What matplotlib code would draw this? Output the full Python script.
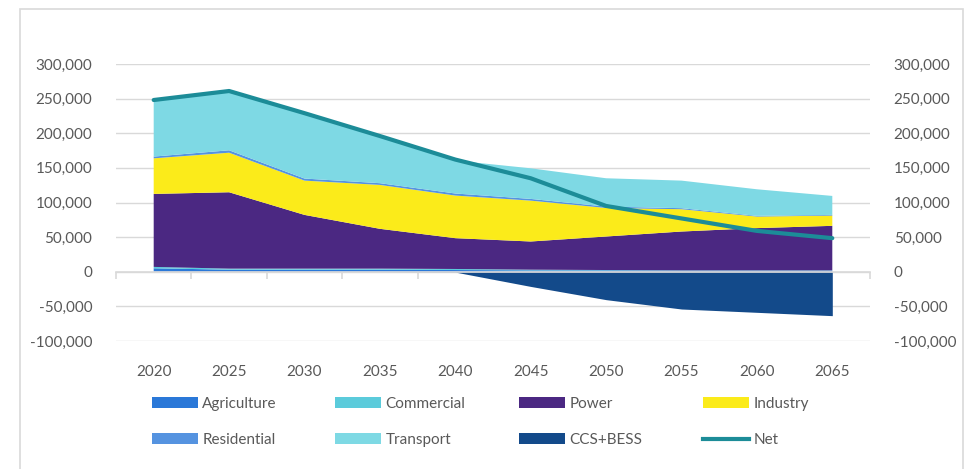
import numpy as np
import matplotlib
matplotlib.use('Agg')
import matplotlib.pyplot as plt
from matplotlib.patches import Rectangle, Patch
from matplotlib.lines import Line2D
from matplotlib.ticker import FuncFormatter

plt.rcParams['font.family'] = ['Lato', 'DejaVu Sans']

years = [2020, 2025, 2030, 2035, 2040, 2045, 2050, 2055, 2060, 2065]
agriculture = [5000, 3000, 3000, 3000, 2500, 2000, 2000, 1500, 1500, 1500]
commercial = [2000, 1500, 1500, 1500, 1500, 1000, 500, 500, 500, 500]
power = [105400, 110300, 77600, 57500, 44500, 40700, 48400, 56100, 61000, 64300]
industry = [51400, 57100, 49500, 63400, 61500, 59000, 41200, 32200, 16700, 14800]
residential = [2500, 3500, 3000, 2500, 3000, 2500, 2000, 1500, 1000, 1000]
transport = [81800, 85500, 93700, 68200, 47600, 44200, 40900, 39800, 38400, 27400]
ccs_bess = [0, 0, 0, 0, -500, -21200, -40300, -53800, -58600, -63400]
net = [248000, 261000, 229000, 196000, 162000, 135000, 95000, 77000, 59000, 48500]

colors = {
    'Agriculture': '#2a78d8',
    'Commercial': '#5bcbdb',
    'Power': '#4b2882',
    'Industry': '#fbeb1a',
    'Residential': '#5593e0',
    'Transport': '#7ed9e4',
    'CCS+BESS': '#134a8a',
    'Net': '#1c8c98',
}
text_color = '#595959'
grid_color = '#d9d9d9'

fig = plt.figure(figsize=(9.71, 4.69), dpi=100)
ax = fig.add_axes([116 / 971, 1 - 341 / 469, (870 - 116) / 971, (341 - 64) / 469])

# frame around the chart
fig.patches.append(Rectangle((20 / 971, -0.05), (963 - 20) / 971, 1.05 - 9 / 469,
                             transform=fig.transFigure, fill=False,
                             edgecolor=grid_color, linewidth=1.2))

x = np.arange(len(years))
stack_names = ['Agriculture', 'Commercial', 'Power', 'Industry', 'Residential', 'Transport']
ax.stackplot(x, agriculture, commercial, power, industry, residential, transport,
             colors=[colors[n] for n in stack_names], linewidth=0, zorder=2)
ax.fill_between(x, 0, ccs_bess, color=colors['CCS+BESS'], linewidth=0, zorder=2)
ax.plot(x, net, color=colors['Net'], linewidth=3, solid_capstyle='round', zorder=4)

ax.set_xlim(-0.5, len(years) - 0.5)
ax.set_ylim(-100000, 300000)
ax.set_yticks(np.arange(-100000, 300001, 50000))
ax.yaxis.set_major_formatter(FuncFormatter(lambda v, p: f'{int(v):,}'))
ax.grid(axis='y', color=grid_color, linewidth=1, zorder=0)
ax.set_axisbelow(True)

for s in ['top', 'left', 'right']:
    ax.spines[s].set_visible(False)
ax.spines['bottom'].set_position(('data', 0))
ax.spines['bottom'].set_color(grid_color)
ax.spines['bottom'].set_linewidth(1.2)
ax.spines['bottom'].set_zorder(5)

ax.set_xticks(np.arange(-0.5, len(years), 1.0))
ax.set_xticklabels([])
ax.tick_params(axis='x', direction='out', length=5, width=1.2, color=grid_color)
ax.tick_params(axis='y', length=0, labelsize=11, labelcolor=text_color,
               labelleft=True, labelright=True, pad=17)

for xi, yr in zip(x, years):
    ax.text(xi, -0.112, str(yr), transform=ax.get_xaxis_transform(),
            ha='center', va='center', fontsize=11, color=text_color)

# legend laid out row by row in four columns
handles = {n: Patch(facecolor=colors[n], edgecolor='none') for n in colors if n != 'Net'}
handles['Net'] = Line2D([0], [0], color=colors['Net'], linewidth=3)
columns = [('Agriculture', 'Residential'), ('Commercial', 'Transport'),
           ('Power', 'CCS+BESS'), ('Industry', 'Net')]
col_x = [152, 335, 519, 703]
for cx, names in zip(col_x, columns):
    fig.legend([handles[n] for n in names], list(names),
               loc='upper left', bbox_to_anchor=(cx / 971, 1 - 397 / 469),
               frameon=False, fontsize=11, labelcolor=text_color,
               handlelength=3.0, handleheight=0.7, handletextpad=0.3,
               labelspacing=1.45, borderpad=0, borderaxespad=0)

fig.savefig('out.png', dpi=100)
